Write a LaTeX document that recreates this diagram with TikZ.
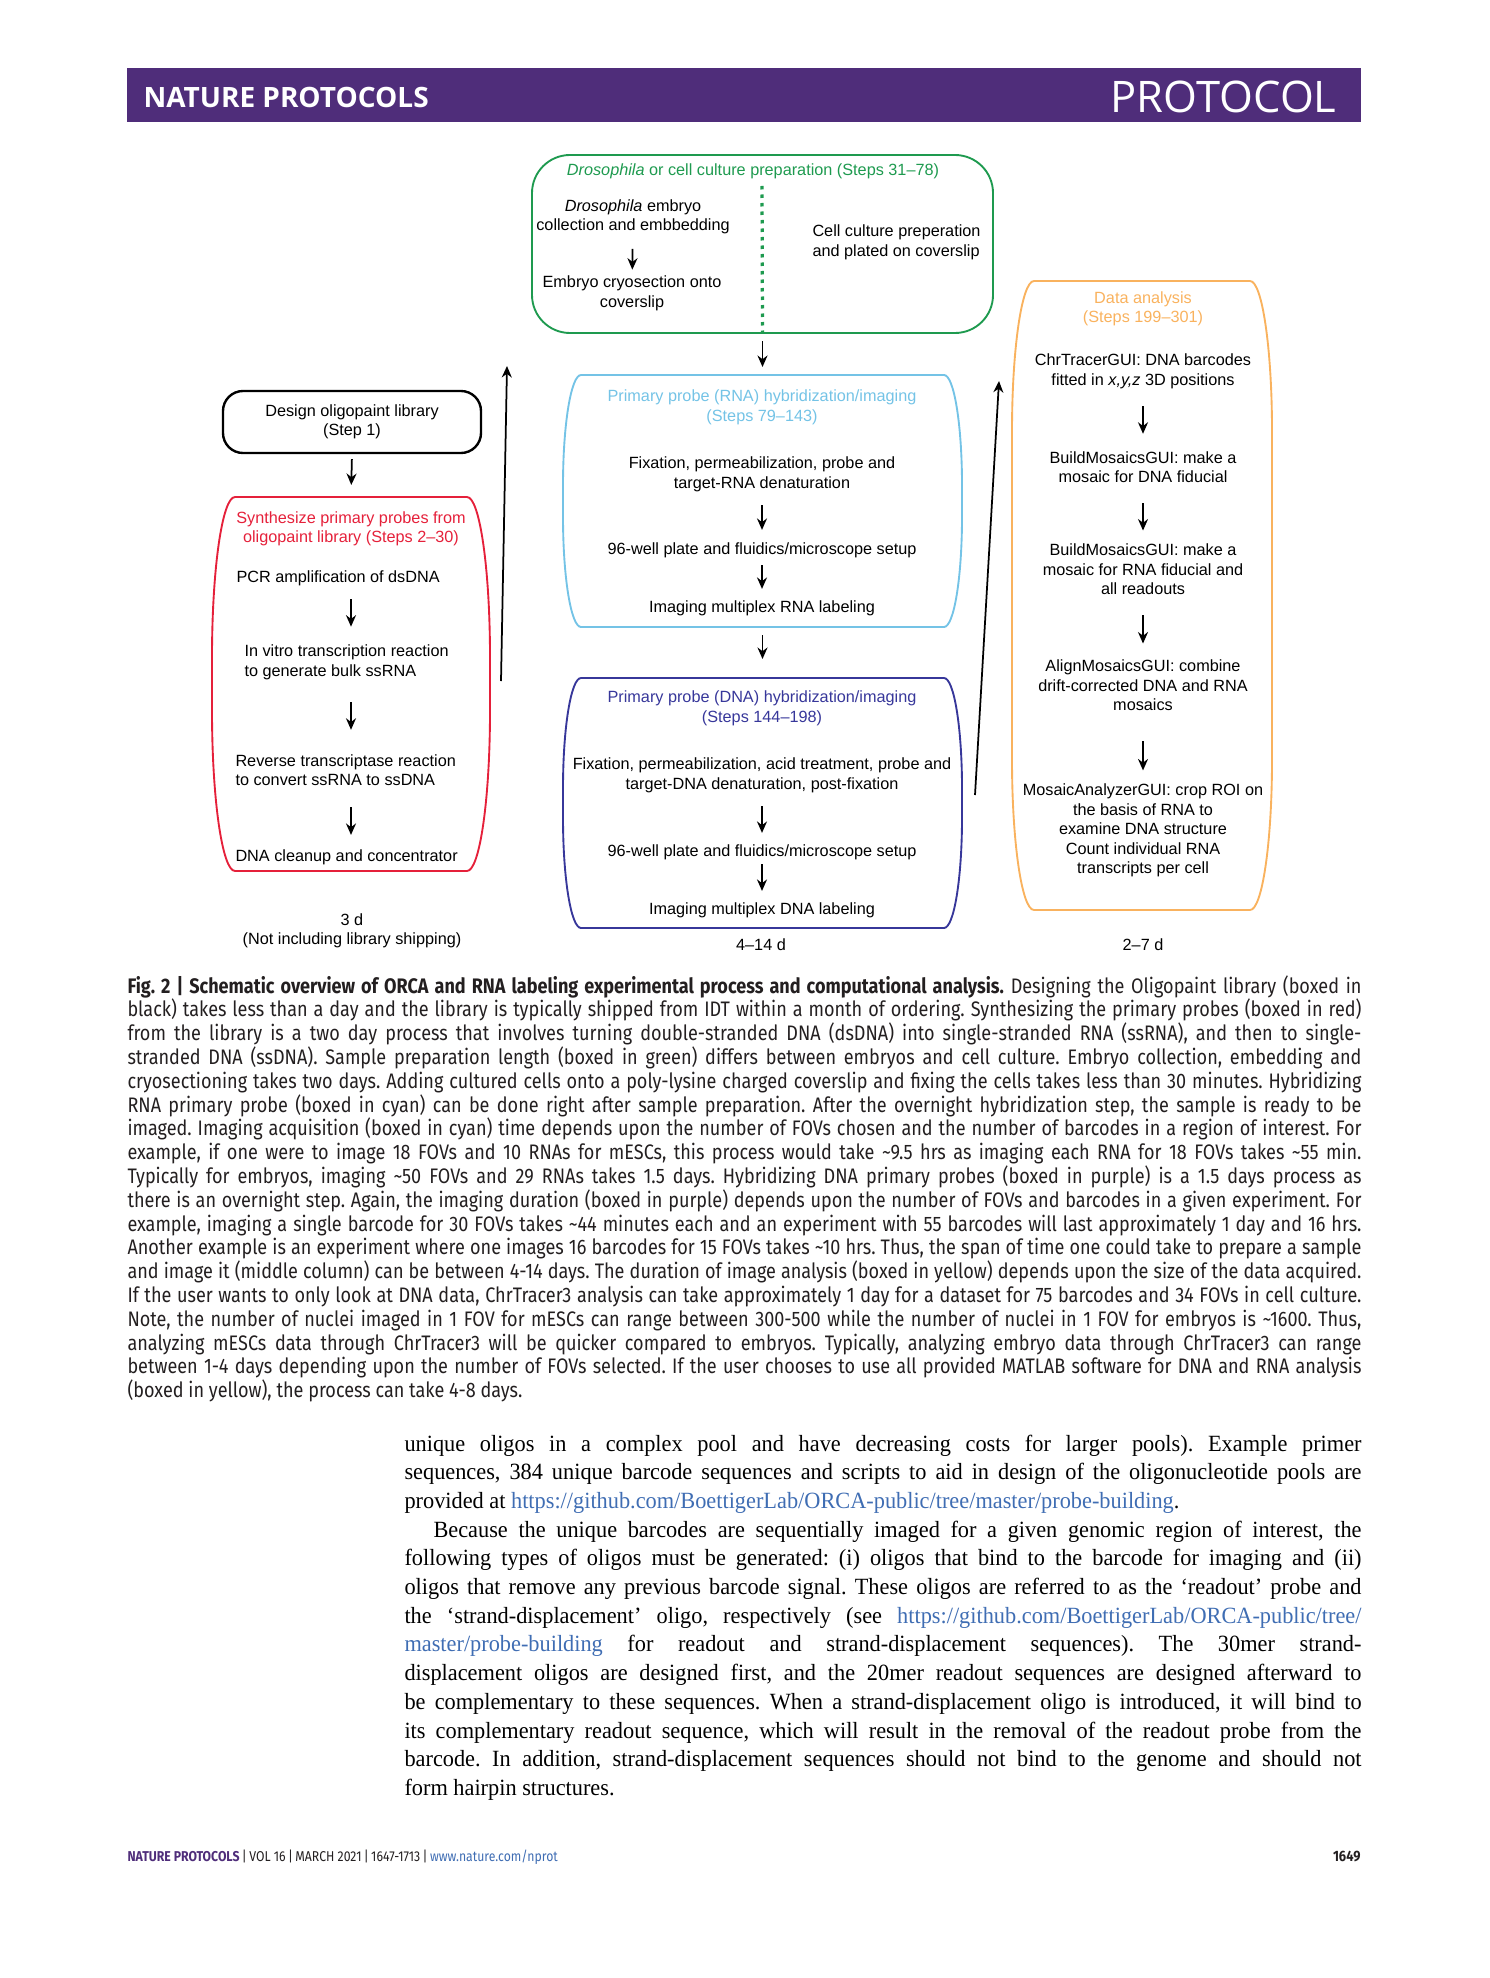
\documentclass[tikz,border=0pt]{standalone}
\usepackage{fontspec}
\setmainfont[FakeStretch=0.96]{Liberation Serif}
\newfontfamily\diafont[Ligatures=TeX]{Liberation Sans}
\newfontfamily\capfont[Ligatures=TeX, FakeStretch=0.86]{Fira Sans}
\newfontfamily\headfont[Ligatures=TeX]{Open Sans}
\usetikzlibrary{arrows.meta}
\frenchspacing
\hyphenpenalty=10000
\exhyphenpenalty=10000

\definecolor{npPurple}{HTML}{4F2D7A}
\definecolor{boxGreen}{HTML}{1E9A4F}
\definecolor{boxRed}{HTML}{E5203A}
\definecolor{boxCyan}{HTML}{74C3E6}
\definecolor{boxIndigo}{HTML}{37379A}
\definecolor{boxOrange}{HTML}{F9B25E}
\definecolor{linkBlue}{HTML}{3F6DB3}
\definecolor{capGray}{HTML}{231F20}

% frame with elliptic corners: name, style, x1, y1, x2, y2, rx, ry
\newcommand{\roundbox}[8]{%
  \draw[#2] (#3+#7,#4) -- (#5-#7,#4)
    .. controls (#5-0.448*#7,#4) and (#5,#4+0.448*#8) .. (#5,#4+#8)
    -- (#5,#6-#8)
    .. controls (#5,#6-0.448*#8) and (#5-0.448*#7,#6) .. (#5-#7,#6)
    -- (#3+#7,#6)
    .. controls (#3+0.448*#7,#6) and (#3,#6-0.448*#8) .. (#3,#6-#8)
    -- (#3,#4+#8)
    .. controls (#3,#4+0.448*#8) and (#3+0.448*#7,#4) .. (#3+#7,#4) -- cycle;
  \coordinate (#1-n) at ({(#3+#5)/2},#4);
  \coordinate (#1-s) at ({(#3+#5)/2},#6);}

\begin{document}
\begin{tikzpicture}[x=0.4pt, y=-0.4pt,
    txt/.style={inner sep=0pt, align=center, font={\diafont\fontsize{6.5}{7.8}\selectfont}},
    ltxt/.style={txt, align=left, anchor=west},
    flow/.style={-{Stealth[length=4.6pt,width=4pt]}, line width=0.7pt},
    frame/.style={line width=0.75pt}]
  \useasboundingbox (0,0) rectangle (1489,1978);

  % header bar
  \fill[npPurple] (127,68) rectangle (1361,122);
  \node[anchor=base west, inner sep=0pt, text=white, font={\headfont\bfseries\fontsize{11.2}{13}\selectfont}] (hdLeft) at (143,107.7) {NATURE PROTOCOLS};
  \node[anchor=base east, inner sep=0pt, text=white, font={\headfont\fontsize{17.4}{20}\selectfont}] (hdRight) at (1337,112.7) {PROTOCOL};

  % sample preparation
  \roundbox{green}{frame, boxGreen}{532}{155}{993}{333}{38}{38}
  \node[txt, text=boxGreen] (gTitle) at (753,171) {\itshape Drosophila\upshape{} or cell culture preparation (Steps 31--78)};
  \node[txt] (gEmb) at (633,217) {\itshape Drosophila\upshape{} embryo\\collection and embbedding};
  \node[txt] (gCryo) at (632,293.5) {Embryo cryosection onto\\coverslip};
  \node[ltxt] (gCell) at (812,242.5) {Cell culture preperation\\and plated on coverslip};
  \coordinate (gDiv) at (762,186);
  \draw[boxGreen, line width=1.3pt, dash pattern=on 1.4pt off 2pt] (gDiv) -- (green-s);
  \draw[flow, shorten <=5.6pt, shorten >=2.4pt] (gEmb) -- (gCryo);

  % RNA hybridization
  \roundbox{cyan}{frame, boxCyan}{563}{375}{962}{627}{18}{110}
  \node[txt, text=boxCyan] (cTitle) at (762,407.5) {Primary probe (RNA) hybridization/imaging\\(Steps 79--143)};
  \node[txt] (cFix) at (762,474.5) {Fixation, permeabilization, probe and\\target-RNA denaturation};
  \node[txt] (cWell) at (762,550) {96-well plate and fluidics/microscope setup};
  \node[txt] (cImg) at (762,608) {Imaging multiplex RNA labeling};
  \draw[flow, shorten <=5.2pt, shorten >=4.8pt] (cFix) -- (cWell);
  \draw[flow, shorten <=2.8pt, shorten >=4.4pt] (cWell) -- (cImg);

  % DNA hybridization
  \roundbox{indigo}{frame, boxIndigo}{563}{678}{962}{928}{18}{110}
  \node[txt, text=boxIndigo] (pTitle) at (762,708.5) {Primary probe (DNA) hybridization/imaging\\(Steps 144--198)};
  \node[txt] (pFix) at (762,775.5) {Fixation, permeabilization, acid treatment, probe and\\target-DNA denaturation, post-fixation};
  \node[txt] (pWell) at (762,852) {96-well plate and fluidics/microscope setup};
  \node[txt] (pImg) at (762,910) {Imaging multiplex DNA labeling};
  \node[txt] (pDays) at (761,945) {4--14 d};
  \draw[flow, shorten <=5.2pt, shorten >=4.4pt] (pFix) -- (pWell);
  \draw[flow, shorten <=1.6pt, shorten >=4.4pt] (pWell) -- (pImg);

  \draw[flow, shorten <=3.2pt, shorten >=3.2pt] (green-s) -- (cyan-n);
  \draw[flow, shorten <=3.2pt, shorten >=7.6pt] (cyan-s) -- (indigo-n);

  % library design and synthesis
  \node[txt, draw, line width=0.95pt, rounded corners=8pt, minimum width=103.2pt, minimum height=24.8pt] (design) at (352,422) {Design oligopaint library\\(Step 1)};
  \roundbox{red}{frame, boxRed}{212}{497}{490}{871}{23}{160}
  \node[txt, text=boxRed] (rTitle) at (351,529) {Synthesize primary probes from\\oligopaint library (Steps 2--30)};
  \node[ltxt] (rPCR) at (236,578) {PCR amplification of dsDNA};
  \node[ltxt] (rIVT) at (244,662.5) {In vitro transcription reaction\\to generate bulk ssRNA};
  \node[ltxt] (rRT) at (235,770) {Reverse transcriptase reaction\\to convert ssRNA to ssDNA};
  \node[ltxt] (rClean) at (235,857) {DNA cleanup and concentrator};
  \node[txt] (lDays) at (352,931) {3 d\\(Not including library shipping)};
  \draw[flow, shorten <=2pt, shorten >=4.8pt] (design.south) -- (red-n);
  \draw[flow, shorten <=5.2pt, shorten >=7.2pt] (rPCR.south -| red-n) -- (rIVT.north -| red-n);
  \draw[flow, shorten <=8.8pt, shorten >=9.6pt] (rIVT.south -| red-n) -- (rRT.north -| red-n);
  \draw[flow, shorten <=8.4pt, shorten >=5.6pt] (rRT.south -| red-n) -- (rClean.north -| red-n);

  % data analysis
  \roundbox{orange}{frame, boxOrange}{1012}{281}{1272}{910}{22}{150}
  \node[txt, text=boxOrange] (oTitle) at (1143,309) {Data analysis\\(Steps 199--301)};
  \node[txt] (oChr) at (1143,371.5) {ChrTracerGUI: DNA barcodes\\fitted in \textit{x,y,z} 3D positions};
  \node[txt] (oBM1) at (1143,467) {BuildMosaicsGUI: make a\\mosaic for DNA fiducial};
  \node[txt] (oBM2) at (1143,569.5) {BuildMosaicsGUI: make a\\mosaic for RNA fiducial and\\all readouts};
  \node[txt] (oAlign) at (1143,685.5) {AlignMosaicsGUI: combine\\drift-corrected DNA and RNA\\mosaics};
  \node[txt] (oMos) at (1143,830.5) {MosaicAnalyzerGUI: crop ROI on\\the basis of RNA to\\examine DNA structure\\Count individual RNA\\transcripts per cell};
  \node[txt] (oDays) at (1143,945) {2--7 d};
  \draw[flow, shorten <=6.8pt, shorten >=6.8pt] (oChr) -- (oBM1);
  \draw[flow, shorten <=8pt, shorten >=5.2pt] (oBM1) -- (oBM2);
  \draw[flow, shorten <=8pt, shorten >=6.4pt] (oBM2) -- (oAlign);
  \draw[flow, shorten <=12pt, shorten >=5.2pt] (oAlign) -- (oMos);

  % long return arrows
  \coordinate (upA0) at (501,681);
  \coordinate (upA1) at (507,366);
  \coordinate (upB0) at (975,795);
  \coordinate (upB1) at (999,381);
  \draw[flow] (upA0) -- (upA1);
  \draw[flow] (upB0) -- (upB1);

  % caption
  \node[anchor=base west, inner sep=0pt, text width=493.6pt, align=justify, text=capGray,
        font={\capfont\fontsize{8.4}{9.52}\selectfont}] (capt) at (127,993) {%
  \textbf{Fig. 2 | Schematic overview of ORCA and RNA labeling experimental process and computational analysis.} Designing the Oligopaint library (boxed in\linebreak
  black) takes less than a day and the library is typically shipped from IDT within a month of ordering. Synthesizing the primary probes (boxed in red)\linebreak
  from the library is a two day process that involves turning double-stranded DNA (dsDNA) into single-stranded RNA (ssRNA), and then to single-\linebreak
  stranded DNA (ssDNA). Sample preparation length (boxed in green) differs between embryos and cell culture. Embryo collection, embedding and\linebreak
  cryosectioning takes two days. Adding cultured cells onto a poly-lysine charged coverslip and fixing the cells takes less than 30 minutes. Hybridizing\linebreak
  RNA primary probe (boxed in cyan) can be done right after sample preparation. After the overnight hybridization step, the sample is ready to be\linebreak
  imaged. Imaging acquisition (boxed in cyan) time depends upon the number of FOVs chosen and the number of barcodes in a region of interest. For\linebreak
  example, if one were to image 18 FOVs and 10 RNAs for mESCs, this process would take \textasciitilde9.5 hrs as imaging each RNA for 18 FOVs takes \textasciitilde55 min.\linebreak
  Typically for embryos, imaging \textasciitilde50 FOVs and 29 RNAs takes 1.5 days. Hybridizing DNA primary probes (boxed in purple) is a 1.5 days process as\linebreak
  there is an overnight step. Again, the imaging duration (boxed in purple) depends upon the number of FOVs and barcodes in a given experiment. For\linebreak
  example, imaging a single barcode for 30 FOVs takes \textasciitilde44 minutes each and an experiment with 55 barcodes will last approximately 1 day and 16 hrs.\linebreak
  Another example is an experiment where one images 16 barcodes for 15 FOVs takes \textasciitilde10 hrs. Thus, the span of time one could take to prepare a sample\linebreak
  and image it (middle column) can be between 4-14 days. The duration of image analysis (boxed in yellow) depends upon the size of the data acquired.\linebreak
  If the user wants to only look at DNA data, ChrTracer3 analysis can take approximately 1 day for a dataset for 75 barcodes and 34 FOVs in cell culture.\linebreak
  Note, the number of nuclei imaged in 1 FOV for mESCs can range between 300-500 while the number of nuclei in 1 FOV for embryos is \textasciitilde1600. Thus,\linebreak
  analyzing mESCs data through ChrTracer3 will be quicker compared to embryos. Typically, analyzing embryo data through ChrTracer3 can range\linebreak
  between 1-4 days depending upon the number of FOVs selected. If the user chooses to use all provided MATLAB software for DNA and RNA analysis\linebreak
  (boxed in yellow), the process can take 4-8 days.};

  % body text
  \node[anchor=base west, inner sep=0pt, text width=382.8pt, align=justify,
        font={\fontsize{9.3}{11.48}\selectfont}] (body) at (404,1451) {%
  unique oligos in a complex pool and have decreasing costs for larger pools). Example primer\linebreak
  sequences, 384 unique barcode sequences and scripts to aid in design of the oligonucleotide pools are\linebreak
  provided at \textcolor{linkBlue}{https://github.com/BoettigerLab/ORCA-public/tree/master/probe-building}.\par
  \hspace*{11.6pt}Because the unique barcodes are sequentially imaged for a given genomic region of interest, the\linebreak
  following types of oligos must be generated: (i) oligos that bind to the barcode for imaging and (ii)\linebreak
  oligos that remove any previous barcode signal. These oligos are referred to as the `readout' probe and\linebreak
  the `strand-displacement' oligo, respectively (see \textcolor{linkBlue}{https://github.com/BoettigerLab/ORCA-public/tree/}\linebreak
  \textcolor{linkBlue}{master/probe-building} for readout and strand-displacement sequences). The 30mer strand-\linebreak
  displacement oligos are designed first, and the 20mer readout sequences are designed afterward to\linebreak
  be complementary to these sequences. When a strand-displacement oligo is introduced, it will bind to\linebreak
  its complementary readout sequence, which will result in the removal of the readout probe from the\linebreak
  barcode. In addition, strand-displacement sequences should not bind to the genome and should not\linebreak
  form hairpin structures.};

  % footer
  \node[anchor=base west, inner sep=0pt, text=capGray, font={\capfont\fontsize{5.7}{7}\selectfont}] (foot) at (127,1861)
    {\textcolor{npPurple}{\bfseries NATURE PROTOCOLS}\,|\,VOL 16\,|\,MARCH 2021\,|\,1647-1713\,|\,\textcolor{linkBlue}{www.nature.com/nprot}};
  \node[anchor=base east, inner sep=0pt, text=capGray, font={\capfont\bfseries\fontsize{6}{7}\selectfont}] (pageNo) at (1361,1861) {1649};
\end{tikzpicture}
\end{document}
